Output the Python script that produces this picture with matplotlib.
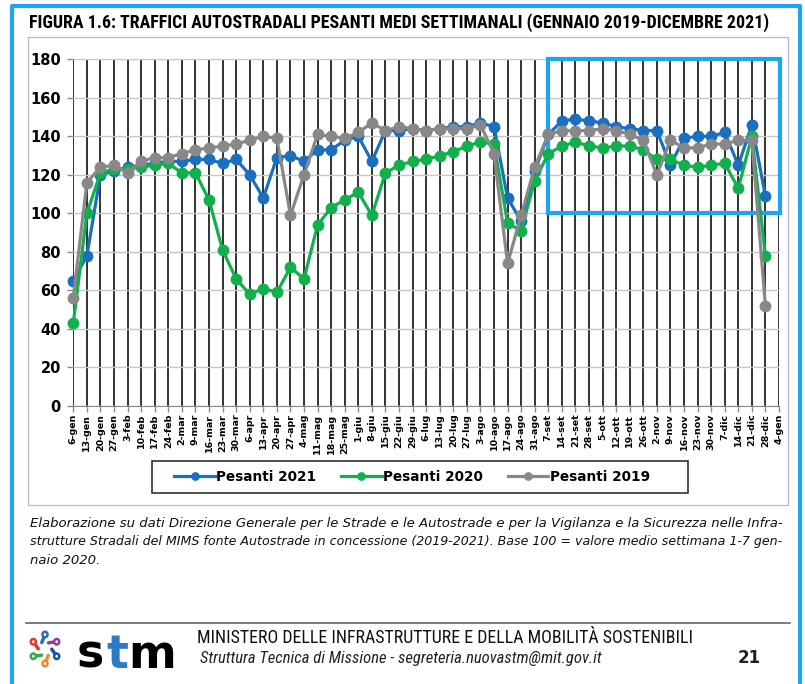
import math
import matplotlib
matplotlib.use("Agg")
import matplotlib.pyplot as plt
from matplotlib.lines import Line2D
from matplotlib.patches import Rectangle, Circle

W, H = 805, 684

weeks = ["6-gen", "13-gen", "20-gen", "27-gen", "3-feb", "10-feb", "17-feb", "24-feb",
         "2-mar", "9-mar", "16-mar", "23-mar", "30-mar", "6-apr", "13-apr", "20-apr",
         "27-apr", "4-mag", "11-mag", "18-mag", "25-mag", "1-giu", "8-giu", "15-giu",
         "22-giu", "29-giu", "6-lug", "13-lug", "20-lug", "27-lug", "3-ago", "10-ago",
         "17-ago", "24-ago", "31-ago", "7-set", "14-set", "21-set", "28-set", "5-ott",
         "12-ott", "19-ott", "26-ott", "2-nov", "9-nov", "16-nov", "23-nov", "30-nov",
         "7-dic", "14-dic", "21-dic", "28-dic", "4-gen"]

pesanti2021 = [65, 78, 120, 122, 124, 125, 126, 127, 127, 128, 128, 126, 128, 120, 108, 129,
               130, 127, 133, 133, 138, 140, 127, 143, 143, 144, 143, 144, 145, 145, 147, 145,
               108, 96, 122, 141, 148, 149, 148, 147, 145, 144, 143, 143, 125, 139, 140, 140,
               142, 125, 146, 109]
pesanti2020 = [43, 100, 121, 123, 123, 124, 125, 126, 121, 121, 107, 81, 66, 58, 61, 59,
               72, 66, 94, 103, 107, 111, 99, 121, 125, 127, 128, 130, 132, 135, 137, 136,
               95, 91, 117, 131, 135, 137, 135, 134, 135, 135, 133, 128, 128, 125, 124, 125,
               126, 113, 140, 78]
pesanti2019 = [56, 116, 124, 125, 121, 127, 129, 129, 131, 133, 134, 135, 136, 138, 140, 139,
               99, 120, 141, 140, 139, 142, 147, 143, 145, 144, 143, 144, 144, 144, 146, 131,
               74, 99, 124, 141, 143, 143, 143, 144, 143, 141, 138, 120, 138, 134, 134, 136,
               136, 138, 138, 52]
seriesNames = ["Pesanti 2021", "Pesanti 2020", "Pesanti 2019"]
seriesColors = ["#1a6fc0", "#12b04c", "#888888"]
yTicks = [0, 20, 40, 60, 80, 100, 120, 140, 160, 180]

titleText = ("FIGURA 1.6: TRAFFICI AUTOSTRADALI PESANTI MEDI SETTIMANALI "
             "(GENNAIO 2019-DICEMBRE 2021)")
caption = ["Elaborazione su dati Direzione Generale per le Strade e le Autostrade e per la "
           "Vigilanza e la Sicurezza nelle Infra-",
           "strutture Stradali del MIMS fonte Autostrade in concessione (2019-2021). Base 100 = "
           "valore medio settimana 1-7 gen-",
           "naio 2020."]
footer1 = "MINISTERO DELLE INFRASTRUTTURE E DELLA MOBILITÀ SOSTENIBILI"
footer2 = "Struttura Tecnica di Missione - segreteria.nuovastm@mit.gov.it"

FRAME_BLUE = "#1ea5f2"
NARROW = ["Roboto Condensed", "Roboto", "DejaVu Sans"]


def fx(x):
    return x / W


def fy(y):
    return 1 - y / H


def fitWidth(fig, txt, widthPx):
    # shrink or grow the font so the text spans the width seen in the reference
    r = fig.canvas.get_renderer()
    w = txt.get_window_extent(r).width
    txt.set_fontsize(txt.get_fontsize() * widthPx / w)
    return txt.get_fontsize()


fig = plt.figure(figsize=(W / 100, H / 100), dpi=100)

# page frame and chart box
fig.add_artist(Line2D([fx(12), fx(12), fx(800), fx(800)], [0, fy(6), fy(6), 0],
                      transform=fig.transFigure, color=FRAME_BLUE, lw=3,
                      solid_joinstyle="round"))
fig.add_artist(Rectangle((fx(28), fy(505)), 760 / W, 468 / H, transform=fig.transFigure,
                         fill=False, ec="#b8b8b8", lw=0.9))

title = fig.text(fx(29), fy(22.5), titleText, ha="left", va="center", fontsize=11,
                 fontweight="bold", family=NARROW)
fitWidth(fig, title, 739)

ax = fig.add_axes([fx(73.3), fy(406), (779 - 73.3) / W, (406 - 59.3) / H])
x = list(range(len(weeks)))
handles = []
for vals, name, col in zip([pesanti2021, pesanti2020, pesanti2019], seriesNames, seriesColors):
    h, = ax.plot(x[:len(vals)], vals, color=col, lw=2.3, marker="o", ms=7.5,
                 label=name, clip_on=False, zorder=3)
    handles.append(h)

ax.set_xlim(0, len(weeks) - 1)
ax.set_ylim(0, 180)
ax.set_xticks(x)
ax.set_xticklabels(weeks, rotation=90, fontsize=6.8, fontweight="bold")
ax.set_yticks(yTicks)
ax.set_yticklabels([str(v) for v in yTicks], fontsize=10.5, fontweight="bold")
ax.grid(axis="x", color="#111111", lw=1.2, zorder=1)
ax.grid(axis="y", color="#c6c6c6", lw=1, zorder=1)
ax.set_axisbelow(True)
for s in ["top", "right", "left"]:
    ax.spines[s].set_visible(False)
ax.spines["bottom"].set_color("#8a8a8a")
ax.tick_params(axis="both", direction="out", length=4, width=1, color="#8a8a8a")
ax.tick_params(axis="x", pad=1.5)
ax.tick_params(axis="y", pad=5)

# highlight box on the last months
ax.add_patch(Rectangle((35, 100.4), 17.08, 79.6, fill=False, ec=FRAME_BLUE, lw=3,
                       clip_on=False, zorder=2.5))

# legend
fig.add_artist(Rectangle((fx(152), fy(493)), 536 / W, 32 / H, transform=fig.transFigure,
                         fill=False, ec="#222222", lw=1.1))
fig.legend(handles=handles, loc="center", bbox_to_anchor=(fx(412), fy(477)), ncol=3,
           frameon=False, prop={"weight": "bold", "size": 9.8}, handlelength=3,
           columnspacing=1.8, handletextpad=0.1, markerscale=0.7)

capLines = []
for i, line in enumerate(caption):
    capLines.append(fig.text(fx(30), fy(523 + 19 * i), line, ha="left", va="center",
                             fontsize=9, style="italic", color="#111111"))
capSize = fitWidth(fig, capLines[0], 753)
fitWidth(fig, capLines[1], 753)
capLines[2].set_fontsize(capSize)

# footer
fig.add_artist(Line2D([fx(26), fx(790)], [fy(623), fy(623)], transform=fig.transFigure,
                      color="#666666", lw=1.2))
f1 = fig.text(fx(197), fy(638), footer1, ha="left", va="center", fontsize=11,
              family=NARROW, color="#111111")
fitWidth(fig, f1, 494)
f2 = fig.text(fx(200), fy(658), footer2, ha="left", va="center", fontsize=10.5,
              style="italic", family=NARROW, color="#222222")
fitWidth(fig, f2, 405)
fig.text(fx(738), fy(658), "21", ha="left", va="center", fontsize=12, fontweight="bold",
         color="#222222")

# logo
for ch, xpos, col in [("s", 77, "black"), ("t", 106, "#2b7bc6"), ("m", 128, "black")]:
    fig.text(fx(xpos), fy(668), ch, ha="left", va="baseline", fontsize=33,
             fontweight="bold", color=col)
lax = fig.add_axes([fx(27), fy(670), 36 / W, 42 / H])
lax.set_xlim(-1.2, 1.2)
lax.set_ylim(-1.3, 1.3)
lax.axis("off")
armColors = ["#2d6fb7", "#8e3fa0", "#1c4f9c", "#f08a24", "#3aa64c", "#e03c31"]
angles = [90, 30, -30, -90, -150, 150]
for ang, col in zip(angles, armColors):
    a = math.radians(ang)
    mx, my = 0.45 * math.cos(a + 0.5), 0.45 * math.sin(a + 0.5)
    ex, ey = 0.9 * math.cos(a), 0.9 * math.sin(a)
    lax.plot([mx, ex], [my, ey], color=col, lw=2.5, solid_capstyle="round")
    lax.add_patch(Circle((ex, ey), 0.17, fc="white", ec=col, lw=1.8, zorder=3))

fig.savefig("out.png", dpi=100)
